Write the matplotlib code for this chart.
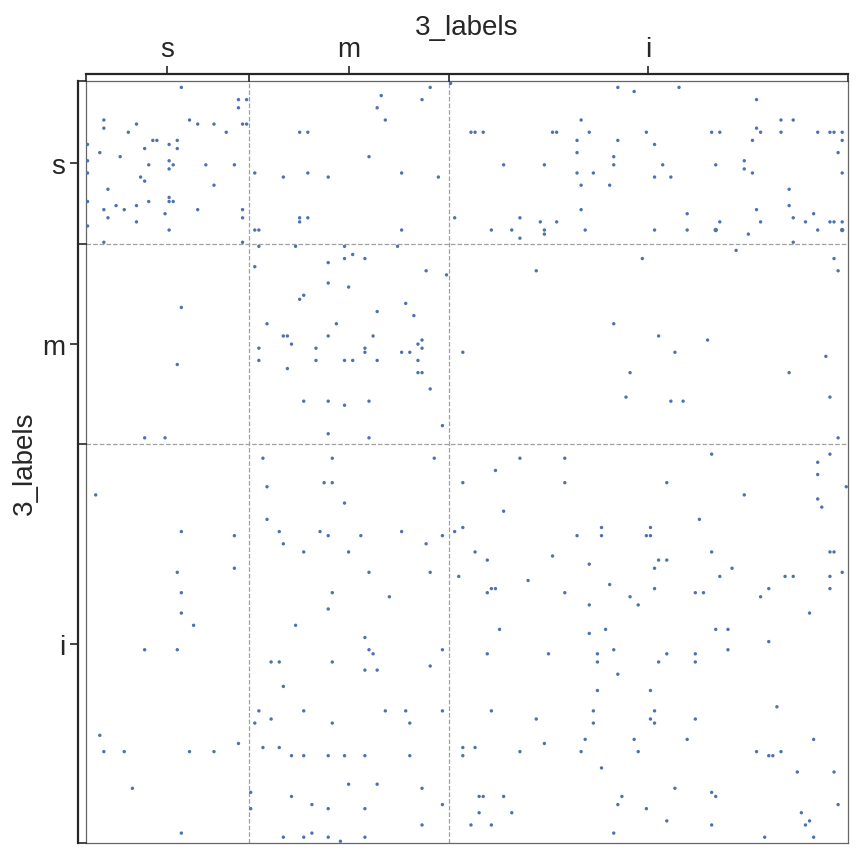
import matplotlib
matplotlib.use("Agg")
import matplotlib.pyplot as plt
import numpy as np

plt.rcParams['font.family'] = ['Liberation Sans', 'DejaVu Sans']

# ---- data ----
group_labels = ["s", "m", "i"]
group_sizes = [40, 49, 98]
axis_title = "3_labels"

# edges (source row, target column), grouped by source block
edges_s = [
    (0, 89),
    (1, 23), (1, 84), (1, 130), (1, 145),
    (2, 134), (3, 72),
    (4, 37), (4, 39), (4, 82), (4, 164),
    (6, 37), (6, 71),
    (9, 4), (9, 25), (9, 73), (9, 121), (9, 170), (9, 173),
    (10, 12), (10, 27), (10, 31), (10, 38), (10, 39),
    (11, 4), (11, 164),
    (12, 10), (12, 34), (12, 52), (12, 54), (12, 94), (12, 95), (12, 97), (12, 114),
    (12, 115), (12, 123), (12, 137), (12, 153), (12, 155), (12, 165), (12, 170),
    (12, 179), (12, 182), (12, 183), (12, 185),
    (14, 16), (14, 17), (14, 22), (14, 120), (14, 130), (14, 163), (14, 185),
    (15, 0), (15, 20), (15, 139),
    (16, 14), (16, 22),
    (17, 3), (17, 120), (17, 184),
    (18, 8), (18, 69), (18, 129),
    (19, 0), (19, 20), (19, 161),
    (20, 15), (20, 21), (20, 29), (20, 36), (20, 102), (20, 112), (20, 129), (20, 141), (20, 154),
    (21, 20), (21, 161),
    (22, 0), (22, 41), (22, 54), (22, 77), (22, 120), (22, 124), (22, 163), (22, 185),
    (23, 13), (23, 48), (23, 59), (23, 86), (23, 139), (23, 143),
    (24, 14),
    (25, 31), (25, 121), (25, 128),
    (26, 5), (26, 172),
    (28, 20),
    (29, 0), (29, 15), (29, 20), (29, 21),
    (30, 7), (30, 12), (30, 172),
    (31, 4), (31, 9), (31, 27), (31, 38), (31, 121), (31, 164),
    (32, 19), (32, 147), (32, 178),
    (33, 5), (33, 38), (33, 52), (33, 54), (33, 90), (33, 106), (33, 173),
    (34, 12), (34, 52), (34, 111), (34, 115), (34, 155), (34, 165), (34, 176), (34, 182),
    (34, 183), (34, 185),
    (35, 0),
    (36, 20), (36, 41), (36, 42), (36, 77), (36, 99), (36, 104), (36, 112), (36, 122),
    (36, 139), (36, 147), (36, 154), (36, 179), (36, 185),
    (37, 112), (37, 162),
    (38, 106),
    (39, 4), (39, 38), (39, 173),
]

edges_m = [
    (40, 42), (40, 51), (40, 63), (40, 76),
    (41, 159), (42, 65),
    (43, 63), (43, 68), (43, 136), (43, 183),
    (44, 59), (45, 41),
    (46, 83), (46, 110), (46, 184),
    (47, 88), (49, 59), (50, 64), (52, 53), (53, 52), (54, 78), (55, 23), (56, 71), (57, 80),
    (59, 44), (59, 61), (59, 129),
    (62, 48), (62, 49), (62, 59), (62, 70), (62, 140),
    (63, 82), (63, 152),
    (64, 50), (64, 81),
    (65, 42), (65, 56), (65, 68), (65, 82),
    (66, 68), (66, 77), (66, 79), (66, 92), (66, 144),
    (67, 181),
    (68, 42), (68, 56), (68, 63), (68, 65), (68, 71), (68, 81),
    (69, 22), (70, 49),
    (71, 81), (71, 82), (71, 133), (71, 172),
    (75, 84),
    (77, 132), (77, 182),
    (78, 53), (78, 59), (78, 69), (78, 143), (78, 146),
    (79, 63), (84, 87), (86, 59),
    (87, 14), (87, 19), (87, 69), (87, 184),
]

edges_i = [
    (91, 153), (91, 182),
    (92, 43), (92, 60), (92, 85), (92, 106), (92, 117),
    (93, 179), (95, 100), (96, 179),
    (98, 58), (98, 60), (98, 92), (98, 117), (98, 142),
    (99, 44), (99, 186),
    (101, 2), (101, 161),
    (102, 179), (103, 63), (104, 180), (105, 102),
    (107, 44), (107, 150),
    (109, 92), (109, 126), (109, 138),
    (110, 23), (110, 47), (110, 57), (110, 77), (110, 90),
    (111, 36), (111, 59), (111, 67), (111, 87), (111, 120), (111, 126), (111, 137), (111, 138),
    (113, 48), (113, 83),
    (115, 53), (115, 64), (115, 95), (115, 153), (115, 182), (115, 183),
    (116, 114),
    (117, 98), (117, 140), (117, 142),
    (118, 123),
    (119, 36), (119, 139), (119, 158),
    (120, 22), (120, 69), (120, 84), (120, 185),
    (121, 91), (121, 155), (121, 171), (121, 173), (121, 182),
    (122, 108), (123, 128),
    (124, 99), (124, 100), (124, 139), (124, 167), (124, 182),
    (125, 23), (125, 60), (125, 98), (125, 117), (125, 149), (125, 151),
    (126, 74), (126, 133), (126, 165),
    (128, 123), (128, 135),
    (129, 59),
    (130, 23), (130, 177),
    (133, 26), (133, 51),
    (134, 101), (134, 127), (134, 154), (134, 157),
    (135, 123), (136, 68), (137, 167),
    (139, 14), (139, 22), (139, 69), (139, 87), (139, 129), (139, 157),
    (140, 70), (140, 98), (140, 113), (140, 125), (140, 142), (140, 149),
    (142, 45), (142, 47), (142, 60), (142, 125), (142, 140), (142, 149),
    (143, 84),
    (144, 68), (144, 71),
    (145, 130), (148, 48),
    (149, 125), (149, 138),
    (153, 169),
    (154, 42), (154, 53), (154, 73), (154, 78), (154, 87), (154, 99), (154, 124), (154, 139),
    (156, 45), (156, 110), (156, 138), (156, 149),
    (157, 41), (157, 60), (157, 79), (157, 124), (157, 139),
    (160, 3),
    (161, 122), (161, 134), (161, 147), (161, 178),
    (162, 37), (162, 112),
    (163, 43), (163, 47), (163, 92), (163, 95),
    (164, 4), (164, 9), (164, 25), (164, 31), (164, 106), (164, 121), (164, 135), (164, 164), (164, 170),
    (165, 50), (165, 53), (165, 59), (165, 63), (165, 68), (165, 79), (165, 92), (165, 167), (165, 168),
    (168, 126),
    (169, 174), (169, 183),
    (172, 64), (172, 71),
    (173, 11), (173, 82), (173, 144),
    (174, 40), (174, 153),
    (175, 50), (175, 96), (175, 97), (175, 102), (175, 131), (175, 154),
    (177, 55), (177, 87), (177, 130), (177, 184),
    (178, 40), (178, 59), (178, 68), (178, 137),
    (179, 96), (179, 104), (179, 175),
    (181, 142), (181, 177),
    (182, 82), (182, 94), (182, 99), (182, 153), (182, 176),
    (184, 23), (184, 55), (184, 129),
    (185, 48), (185, 53), (185, 59), (185, 68), (185, 166), (185, 178),
    (186, 62),
]

# edges with a larger weight
heavy_edges = [(36, 154), (36, 185)]

# ---- figure ----
W, H = 857, 854
fig = plt.figure(figsize=(W / 100, H / 100), dpi=100)


def frac(x0, y0, x1, y1):
    return [x0 / W, 1 - y1 / H, (x1 - x0) / W, (y1 - y0) / H]


n = sum(group_sizes)
starts = np.concatenate([[0], np.cumsum(group_sizes)[:-1]])
centers = starts + (np.array(group_sizes) - 1) / 2
bounds = np.concatenate([starts, [n]]) - 0.5

edges = edges_s + edges_m + edges_i
src = np.array([e[0] for e in edges])
dst = np.array([e[1] for e in edges])
sizes = np.array([10.0 if e in heavy_edges else 6.0 for e in edges])

ax = fig.add_axes(frac(85.5, 82.3, 848.3, 844.3))
ax.scatter(dst, src, s=sizes, c="#4c72b0", linewidths=0, zorder=3)
ax.set_xlim(-0.5, n - 0.5)
ax.set_ylim(n - 0.5, -0.5)
for b in bounds[1:-1]:
    ax.axvline(b, color="#a0a0a0", ls="--", lw=0.9, zorder=1)
    ax.axhline(b, color="#a0a0a0", ls="--", lw=0.9, zorder=1)
ax.set_xticks([])
ax.set_yticks([])
for sp in ax.spines.values():
    sp.set_color("#666666")
    sp.set_linewidth(0.9)

text_color = "#262626"

# top group axis
ax_t = fig.add_axes(frac(85.5, 74.5, 848.3, 82.3))
ax_t.set_xlim(-0.5, n - 0.5)
ax_t.set_ylim(0, 1)
ax_t.patch.set_alpha(0)
for name, sp in ax_t.spines.items():
    sp.set_visible(name == "top")
ax_t.spines["top"].set_linewidth(1.6)
ax_t.spines["top"].set_color("#262626")
ax_t.set_yticks([])
ax_t.set_xticks(centers, group_labels)
ax_t.tick_params(axis="x", top=True, bottom=False, labeltop=True, labelbottom=False,
                 length=6, width=1.2, direction="out", pad=2, labelsize=20,
                 color="#262626", labelcolor=text_color)
for b in bounds:
    ax_t.axvline(b, color="#262626", lw=1.2, clip_on=False)
ax_t.xaxis.set_label_position("top")
ax_t.set_xlabel(axis_title, fontsize=20, labelpad=2, color=text_color)

# left group axis
ax_l = fig.add_axes(frac(77.7, 82.3, 85.5, 844.3))
ax_l.set_ylim(n - 0.5, -0.5)
ax_l.set_xlim(0, 1)
ax_l.patch.set_alpha(0)
for name, sp in ax_l.spines.items():
    sp.set_visible(name == "left")
ax_l.spines["left"].set_linewidth(1.6)
ax_l.spines["left"].set_color("#262626")
ax_l.set_xticks([])
ax_l.set_yticks(centers, group_labels)
ax_l.tick_params(axis="y", left=True, right=False, labelleft=True, labelright=False,
                 length=6, width=1.2, direction="out", pad=3, labelsize=20,
                 color="#262626", labelcolor=text_color)
for b in bounds:
    ax_l.axhline(b, color="#262626", lw=1.2, clip_on=False)
ax_l.set_ylabel(axis_title, fontsize=20, labelpad=3, color=text_color)

fig.savefig("out.png", dpi=100)
